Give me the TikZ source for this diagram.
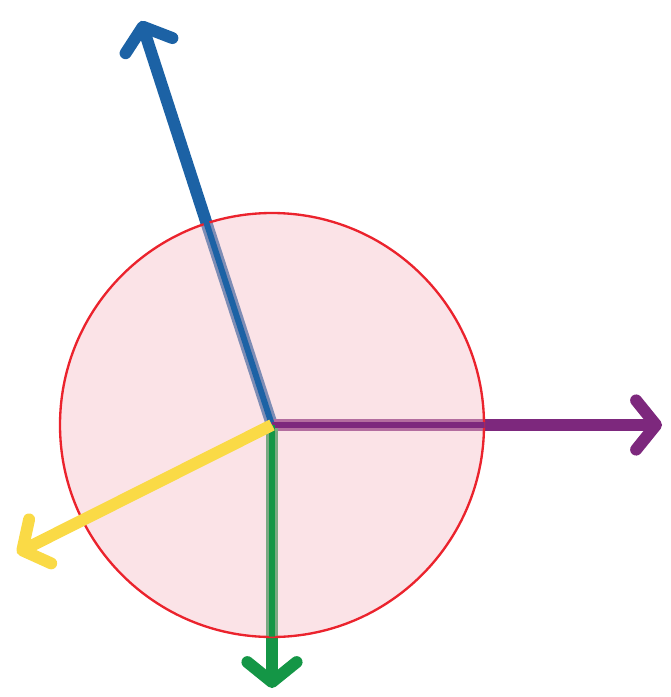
\documentclass[tikz,border=0pt]{standalone}
\usetikzlibrary{calc, arrows.meta}

\definecolor{vblue}{RGB}{28,98,165}
\definecolor{vpurple}{RGB}{125,40,125}
\definecolor{vgreen}{RGB}{20,150,70}
\definecolor{vyellow}{RGB}{250,218,70}
\definecolor{ringred}{RGB}{235,35,45}
\definecolor{ringfill}{RGB}{246,194,202}

\tikzset{
  vec/.style={line width=10.2pt, line cap=butt,
    -{Straight Barb[length=17pt, width=42pt, round]}},
  halfvec/.style={line width=5.1pt, line cap=butt},
}

\begin{document}
\begin{tikzpicture}[x=0.03cm, y=-0.03cm]
  \useasboundingbox (0,0) rectangle (671,697);
  \coordinate (O) at (272,425);
  \coordinate (B) at (141,21);
  \coordinate (P) at (662,425);
  \coordinate (G) at (272,688);
  \coordinate (Y) at (17,553);
  % edges where the bright half stops
  \coordinate (Bc) at ($(O)!0.51!(B)$);
  \coordinate (Pc) at ($(O)!0.545!(P)$);
  \coordinate (Gc) at ($(O)!0.805!(G)$);
  % vectors under the disc
  \draw[vec, vblue] (O) -- (B);
  \draw[vec, vpurple] (O) -- (P);
  \draw[vec, vgreen] (O) -- (G);
  % disc
  \draw[ringred, line width=2pt, fill=ringfill, fill opacity=0.45] (O) circle (212);
  % bright halves over the disc
  \draw[halfvec, vblue, shift={(2.5,0.8)}] (O) -- (Bc);
  \draw[halfvec, vpurple, shift={(0,3)}] (O) -- (Pc);
  \draw[halfvec, vgreen, shift={(-3,0)}] (O) -- (Gc);
  \draw[vec, vyellow] (O) -- (Y);
\end{tikzpicture}
\end{document}
